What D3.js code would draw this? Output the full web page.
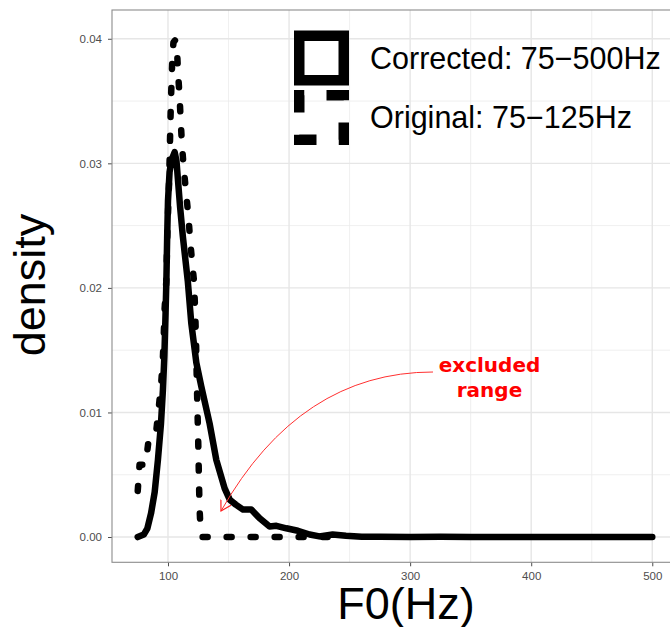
<!DOCTYPE html>
<html lang="en">
  <head>
    <meta charset="UTF-8">
    <title>F0 density</title>
    <script src="https://cdn.jsdelivr.net/npm/d3@7"></script>
    <style>
      html, body {
        margin: 0;
        padding: 0;
        background: #fff;
      }
      svg {
        display: block;
        font-family: "Liberation Sans", Arial, sans-serif;
      }
      .tick-label {
        fill: #4d4d4d;
        font-size: 11.5px;
      }
    </style>
  </head>
  <body>
    <script>
      // corrected pitch range 75-500Hz (solid)
      const correctedF0 = [75, 80, 83, 86, 89, 91.7, 94.2, 95.8, 97, 98, 98.7, 99.3, 100, 101.3, 103, 105.5, 107, 108.2,
        110, 112.3, 116.4, 119.2, 123.4, 127.5, 134.4, 139.9, 146.8, 151, 156, 162, 168.8, 175.7, 183.9, 189.5,
        197.7, 207.3, 217, 225, 236, 247, 260, 275, 300, 325, 350, 375, 400, 425, 450, 475, 500];
      const correctedDensity = [0, 0.0002, 0.0007, 0.0019, 0.0036, 0.0062, 0.0091, 0.0118, 0.0145, 0.018, 0.0207, 0.024,
        0.027, 0.0293, 0.0303, 0.0309, 0.0302, 0.0287, 0.0265, 0.0241, 0.0205, 0.0172, 0.014, 0.0121, 0.0091, 0.0062,
        0.0039, 0.003, 0.0026, 0.0022, 0.0022, 0.0015, 0.00085, 0.0009, 0.0007, 0.0005, 0.0002, 0.00005, 0.0002,
        0.0001, 0.00003, 0.00002, 0.00001, 0.00002, 0.00001, 0.00001, 0.00001, 0.00001, 0.00001, 0.00001, 0.00001];

      // original pitch range 75-125Hz (dashed)
      const originalF0 = [75, 76.5, 81.5, 84, 87, 90.3, 92.5, 94.5, 95.8, 96.6, 97.2, 98.6, 99.5, 100.2, 100.9, 101.4,
        101.8, 102.3, 102.9, 103.6, 104.5, 106, 107.4, 108.3, 109.6, 110.5, 111.6, 113.1, 115, 117, 118.3, 120,
        121.5, 122.5, 123.2, 123.8, 124.4, 125, 125.5, 126, 127, 128.5, 245];
      const originalDensity = [0.0037, 0.0058, 0.0058, 0.0078, 0.0083, 0.0085, 0.0105, 0.0125, 0.0144, 0.0165, 0.0183,
        0.0205, 0.0245, 0.0265, 0.0285, 0.0305, 0.0325, 0.0345, 0.0365, 0.0385, 0.0397, 0.0399, 0.0392, 0.0373,
        0.0353, 0.0334, 0.0314, 0.0295, 0.0276, 0.0256, 0.0238, 0.022, 0.0205, 0.018, 0.0155, 0.0125, 0.01, 0.0075,
        0.005, 0.0025, 0.0003, 0, 0];

      const xTicks = [100, 200, 300, 400, 500];
      const xMinor = [150, 250, 350, 450];
      const yTicks = [0, 0.01, 0.02, 0.03, 0.04];
      const yMinor = [0.005, 0.015, 0.025, 0.035];
      const legendLabels = ["Corrected: 75\u2212500Hz", "Original: 75\u2212125Hz"];
      const noteLines = ["excluded", "range"];

      const width = 670;
      const height = 627;
      const panel = { left: 112, top: 10, right: 678, bottom: 562.3 };

      const svg = d3.select("body").append("svg")
        .attr("width", width)
        .attr("height", height);

      const x = d3.scaleLinear().domain([53.75, 521.25]).range([panel.left, panel.right]);
      const y = d3.scaleLinear().domain([-0.00203, 0.04231]).range([panel.bottom, panel.top]);

      // grid
      const grid = svg.append("g");
      grid.selectAll(".xminor").data(xMinor).enter().append("line")
        .attr("x1", d => x(d)).attr("x2", d => x(d))
        .attr("y1", panel.top).attr("y2", panel.bottom)
        .attr("stroke", "#ebebeb").attr("stroke-width", 0.8);
      grid.selectAll(".yminor").data(yMinor).enter().append("line")
        .attr("x1", panel.left).attr("x2", panel.right)
        .attr("y1", d => y(d)).attr("y2", d => y(d))
        .attr("stroke", "#ebebeb").attr("stroke-width", 0.8);
      grid.selectAll(".xmajor").data(xTicks).enter().append("line")
        .attr("x1", d => x(d)).attr("x2", d => x(d))
        .attr("y1", panel.top).attr("y2", panel.bottom)
        .attr("stroke", "#e6e6e6").attr("stroke-width", 1.4);
      grid.selectAll(".ymajor").data(yTicks).enter().append("line")
        .attr("x1", panel.left).attr("x2", panel.right)
        .attr("y1", d => y(d)).attr("y2", d => y(d))
        .attr("stroke", "#e6e6e6").attr("stroke-width", 1.4);

      // axes
      const xAxis = svg.append("g")
        .attr("transform", `translate(0,${panel.bottom})`)
        .call(d3.axisBottom(x).tickValues(xTicks).tickFormat(d3.format("d")).tickSize(4).tickPadding(5.5));
      const yAxis = svg.append("g")
        .attr("transform", `translate(${panel.left},0)`)
        .call(d3.axisLeft(y).tickValues(yTicks).tickFormat(d3.format(".2f")).tickSize(4).tickPadding(6));
      [xAxis, yAxis].forEach(g => {
        g.attr("font-family", null).attr("font-size", null);
        g.select(".domain").remove();
        g.selectAll(".tick line").attr("stroke", "#4d4d4d").attr("stroke-width", 1);
        g.selectAll(".tick text").attr("class", "tick-label").attr("fill", null);
      });

      // lines
      const line = d3.line().x(d => x(d[0])).y(d => y(d[1]));
      const corrected = correctedF0.map((f, i) => [f, correctedDensity[i]]);
      const original = originalF0.map((f, i) => [f, originalDensity[i]]);

      svg.append("path")
        .datum(corrected)
        .attr("d", line)
        .attr("fill", "none")
        .attr("stroke", "#000")
        .attr("stroke-width", 6.5)
        .attr("stroke-linejoin", "round")
        .attr("stroke-linecap", "round");

      svg.append("path")
        .datum(original)
        .attr("d", line)
        .attr("fill", "none")
        .attr("stroke", "#000")
        .attr("stroke-width", 6.5)
        .attr("stroke-dasharray", "5 19")
        .attr("stroke-linejoin", "round")
        .attr("stroke-linecap", "round");

      // panel border
      svg.append("rect")
        .attr("x", panel.left).attr("y", panel.top)
        .attr("width", panel.right - panel.left).attr("height", panel.bottom - panel.top)
        .attr("fill", "none").attr("stroke", "#8c8c8c").attr("stroke-width", 1.1);

      // legend
      const legend = svg.append("g");
      legend.selectAll("rect").data(legendLabels).enter().append("rect")
        .attr("x", 299.25)
        .attr("y", (d, i) => 35.75 + i * 59.5)
        .attr("width", 44.5)
        .attr("height", 44.5)
        .attr("fill", "none")
        .attr("stroke", "#000")
        .attr("stroke-width", 10.5)
        .attr("stroke-linejoin", "miter")
        .attr("stroke-dasharray", (d, i) => i === 1 ? "22.25 22.25" : null)
        .attr("stroke-dashoffset", (d, i) => i === 1 ? 17.25 : null);
      legend.selectAll("text").data(legendLabels).enter().append("text")
        .attr("x", 370)
        .attr("y", (d, i) => 68.5 + i * 59.5)
        .attr("font-size", 30.5)
        .attr("fill", "#000")
        .text(d => d);

      // annotation
      svg.append("defs").append("marker")
        .attr("id", "arrow")
        .attr("viewBox", "0 -7 12 14")
        .attr("refX", 10)
        .attr("refY", 0)
        .attr("markerWidth", 12)
        .attr("markerHeight", 14)
        .attr("markerUnits", "userSpaceOnUse")
        .attr("orient", "auto")
        .append("path")
        .attr("d", "M0,-5.8L10,0L0,5.8")
        .attr("fill", "none")
        .attr("stroke", "#ff2020")
        .attr("stroke-width", 1.2);

      svg.append("path")
        .attr("d", "M433,372Q300,372 221,511")
        .attr("fill", "none")
        .attr("stroke", "#ff3030")
        .attr("stroke-width", 1)
        .attr("marker-end", "url(#arrow)");

      svg.append("g").selectAll("text").data(noteLines).enter().append("text")
        .attr("x", 489.5)
        .attr("y", (d, i) => 371.5 + i * 25)
        .attr("text-anchor", "middle")
        .attr("font-family", "DejaVu Sans")
        .attr("font-weight", "bold")
        .attr("font-size", 20)
        .attr("fill", "#ff0000")
        .text(d => d);

      // axis titles
      svg.append("text")
        .attr("x", 406)
        .attr("y", 619)
        .attr("text-anchor", "middle")
        .attr("font-size", 45)
        .attr("fill", "#000")
        .text("F0(Hz)");
      svg.append("text")
        .attr("transform", "translate(45,285) rotate(-90)")
        .attr("text-anchor", "middle")
        .attr("font-size", 45)
        .attr("fill", "#000")
        .text("density");
    </script>
  </body>
</html>
